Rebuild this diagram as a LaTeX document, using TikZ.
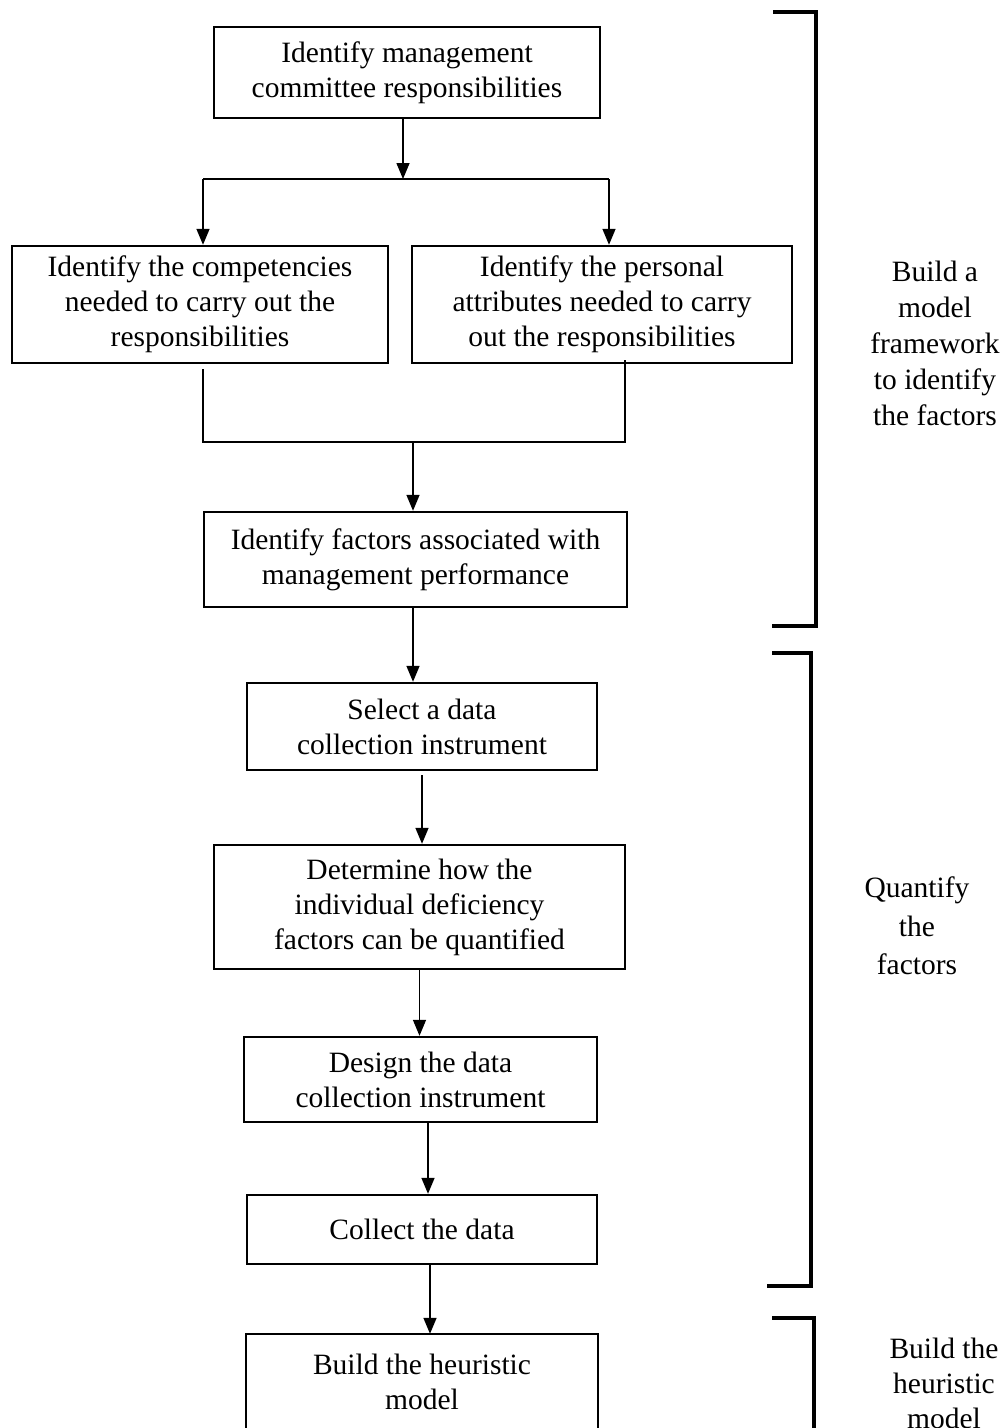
\documentclass[tikz,border=0pt]{standalone}
\usepackage{fontspec}
\setmainfont{Liberation Serif}
\usetikzlibrary{arrows.meta}
\begin{document}
\begin{tikzpicture}[x=1pt,y=-1pt,
  stepbox/.style={draw, line width=2.4pt, align=center, inner sep=0pt,
    font=\fontsize{29.5}{35}\selectfont},
  flow/.style={line width=1.5pt},
  arr/.style={flow, -{Triangle[length=16pt,width=13pt]}},
  brace/.style={line width=3.5pt},
  side/.style={align=center, font=\fontsize{29.5}{36}\selectfont}]
\useasboundingbox (0,0) rectangle (1008,1428);
\clip (0,0) rectangle (1008,1428);

% process steps
\node[stepbox, minimum width=386pt, minimum height=91pt] (b1) at (407,72.5)
  {Identify management\\committee responsibilities};
\node[stepbox, minimum width=376pt, minimum height=117pt] (b2) at (200,304.5)
  {Identify the competencies\\needed to carry out the\\responsibilities};
\node[stepbox, minimum width=380pt, minimum height=117pt] (b3) at (602,304.5)
  {Identify the personal\\attributes needed to carry\\out the responsibilities};
\node[stepbox, minimum width=423pt, minimum height=95pt] (b4) at (415.5,559.5)
  {Identify factors associated with\\management performance};
\node[stepbox, minimum width=350pt, minimum height=87pt] (b5) at (422,726.5)
  {Select a data\\collection instrument};
\node[stepbox, minimum width=411pt, minimum height=124pt] (b6) at (419.5,907)
  {Determine how the\\individual deficiency\\factors can be quantified};
\node[stepbox, minimum width=353pt, minimum height=85pt] (b7) at (420.5,1079.5)
  {Design the data\\collection instrument};
\node[stepbox, minimum width=350pt, minimum height=69pt] (b8) at (422,1229.5)
  {Collect the data};
\node[stepbox, draw=none, minimum width=350pt, minimum height=93pt] (b9) at (422,1381.5)
  {Build the heuristic\\model};
\draw[line width=2.4pt] ([yshift=-20pt]b9.south west) -- (b9.north west)
  -- (b9.north east) -- ([yshift=-20pt]b9.south east);

% split below the first step
\coordinate (j0) at (403,179);
\coordinate (jl) at (203,179);
\coordinate (jr) at (609,179);
\draw[arr] (j0 |- b1.south) -- (j0);
\draw[flow] (jl) -- (jr);
\draw[arr] (jl) -- (jl |- b2.north);
\draw[arr] (jr) -- (jr |- b3.north);

% merge of the two branches
\coordinate (s2) at (203,369);
\coordinate (s3) at (625,360);
\coordinate (ml) at (203,442);
\coordinate (mr) at (625,442);
\coordinate (m0) at (413,442);
\draw[flow] (s2) -- (ml) -- (mr) -- (s3);
\draw[arr] (m0) -- (m0 |- b4.north);

% main chain
\draw[arr] ([xshift=-2.5pt]b4.south) -- ([xshift=-2.5pt]b4.south |- b5.north);
\draw[arr] ([yshift=-4pt]b5.south) -- (b5.south |- b6.north);
\draw[arr] (b6.south) -- (b6.south |- b7.north);
\draw[arr] ([xshift=7.5pt]b7.south) -- ([xshift=7.5pt]b7.south |- b8.north);
\draw[arr] ([xshift=8pt]b8.south) -- ([xshift=8pt]b8.south |- b9.north);

% phase brackets
\draw[brace] (773,12) -- (816,12) -- (816,626) -- (772,626);
\draw[brace] (772,653) -- (811,653) -- (811,1286) -- (767,1286);
\draw[brace] (772,1318) -- (814,1318) -- (814,1429.5) -- (775,1429.5);

% phase labels
\node[side] (l1) at (935,343) {Build a\\model\\framework\\to identify\\the factors};
\node[side, font=\fontsize{29.5}{38.5}\selectfont] (l2) at (917,926) {Quantify\\the\\factors};
\node[side, font=\fontsize{29.5}{35}\selectfont] (l3) at (944,1383) {Build the\\heuristic\\model};
\end{tikzpicture}
\end{document}
